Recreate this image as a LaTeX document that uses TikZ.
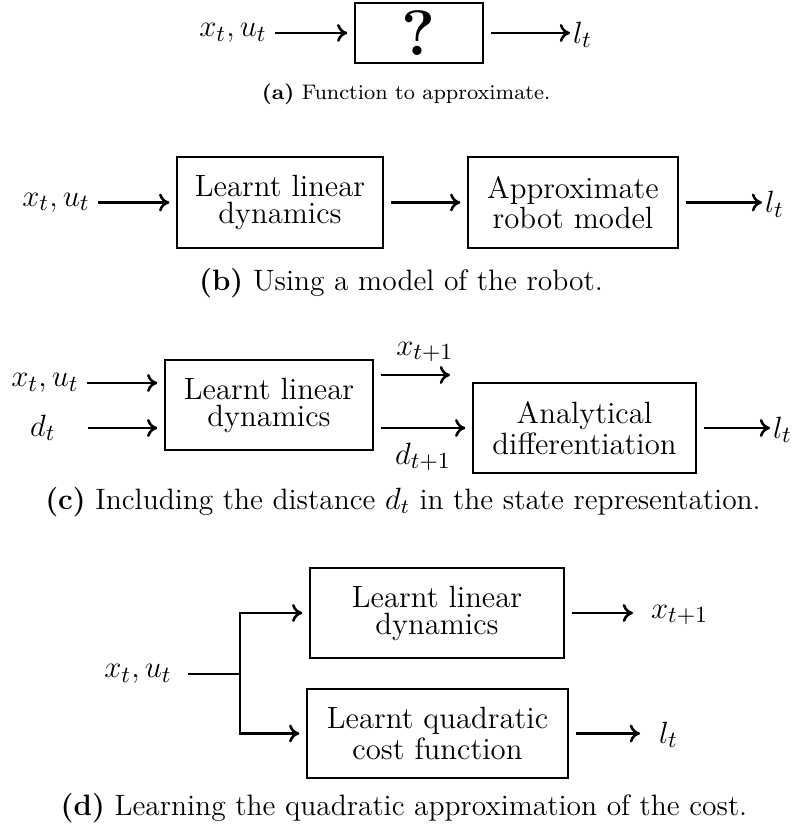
\documentclass[tikz,border=0pt]{standalone}
\usetikzlibrary{arrows.meta,calc}
\begin{document}
\begin{tikzpicture}[x=0.39pt,y=-0.39pt,
  box/.style={draw, line width=0.5pt, align=center, inner sep=0pt, outer sep=3pt, font=\fontsize{12}{10.5}\selectfont},
  arr/.style={-{To[length=4pt,width=7pt]}, line width=1pt},
  lbl/.style={inner sep=3pt, font=\fontsize{12.6}{14}\selectfont},
  lblr/.style={inner sep=1pt, font=\fontsize{12.6}{14}\selectfont},
  captxt/.style={inner sep=0pt, font=\fontsize{11.5}{13}\selectfont}]
\useasboundingbox (0,0) rectangle (800,835);
% (a)
\node[box, minimum width=128*0.39pt, minimum height=60*0.39pt] (qa) at (419,33) {\fontsize{25}{27}\selectfont\bfseries ?};
\node[lbl, anchor=east] (ina) at (275,33) {$x_t, u_t$};
\node[lblr, anchor=west] (outa) at (570,35) {$l_t$};
\draw[arr] (ina.east) -- (qa.west);
\draw[arr] (qa.east) -- (qa.east -| outa.west);
\node[captxt, font=\fontsize{8.2}{10}\selectfont] (capa) at (406,94) {\textbf{(a)} Function to approximate.};
% (b)
\node[box, minimum width=206*0.39pt, minimum height=91*0.39pt] (b1) at (280,202.5) {Learnt linear\\dynamics};
\node[box, minimum width=210*0.39pt, minimum height=91*0.39pt] (b2) at (573,202.5) {Approximate\\robot model};
\node[lbl, anchor=east] (inb) at (98,202.5) {$x_t, u_t$};
\node[lblr, anchor=west] (outb) at (762,204.5) {$l_t$};
\draw[arr] (inb.east) -- (b1.west);
\draw[arr] (b1.east) -- (b2.west);
\draw[arr] (b2.east) -- (b2.east -| outb.west);
\node[captxt] (capb) at (401,283) {\textbf{(b)} Using a model of the robot.};
% (c)
\node[box, minimum width=208*0.39pt, minimum height=90*0.39pt] (c1) at (269,405) {Learnt linear\\dynamics};
\node[box, minimum width=223*0.39pt, minimum height=90*0.39pt] (c2) at (584.5,428) {Analytical\\differentiation};
\node[lbl, anchor=east] (inc1) at (87,383) {$x_t, u_t$};
\node[lblr] (inc2) at (43,428) {$d_t$};
\coordinate (inc2e) at (88,428);
\coordinate (xo2) at (450,375);
\node[lblr] (xlab) at (425,352) {$x_{t+1}$};
\node[lblr] (dlab) at (423,457) {$d_{t+1}$};
\node[lblr, anchor=west] (outc) at (770,430) {$l_t$};
\draw[arr] (inc1.east) -- (inc1.east -| c1.west);
\draw[arr] (inc2e) -- (inc2e -| c1.west);
\draw[arr] (c1.east |- xo2) -- (xo2);
\draw[arr] (c1.east |- c2.west) -- (c2.west);
\draw[arr] (c2.east) -- (c2.east -| outc.west);
\node[captxt] (capc) at (403,502) {\textbf{(c)} Including the distance $d_t$ in the state representation.};
% (d)
\node[box, minimum width=254*0.39pt, minimum height=90*0.39pt] (d1) at (437,613) {Learnt linear\\dynamics};
\node[box, minimum width=261*0.39pt, minimum height=89*0.39pt] (d2) at (437.5,733.5) {Learnt quadratic\\cost function};
\node[lbl, anchor=east] (ind) at (180,674) {$x_t, u_t$};
\coordinate (st) at (188,674);
\coordinate (br) at (240,674);
\node[lblr, anchor=west] (outd1) at (648,615) {$x_{t+1}$};
\node[lblr, anchor=west] (outd2) at (656,735) {$l_t$};
\coordinate (e1b) at (633,613);
\coordinate (e2b) at (640,733.5);
\draw[line width=1pt] (st) -- (br);
\draw[arr] (br) |- (d1.west);
\draw[arr] (br) |- (d2.west);
\draw[arr] (d1.east) -- (e1b);
\draw[arr] (d2.east) -- (e2b);
\node[captxt] (capd) at (404,808) {\textbf{(d)} Learning the quadratic approximation of the cost.};
\end{tikzpicture}
\end{document}
